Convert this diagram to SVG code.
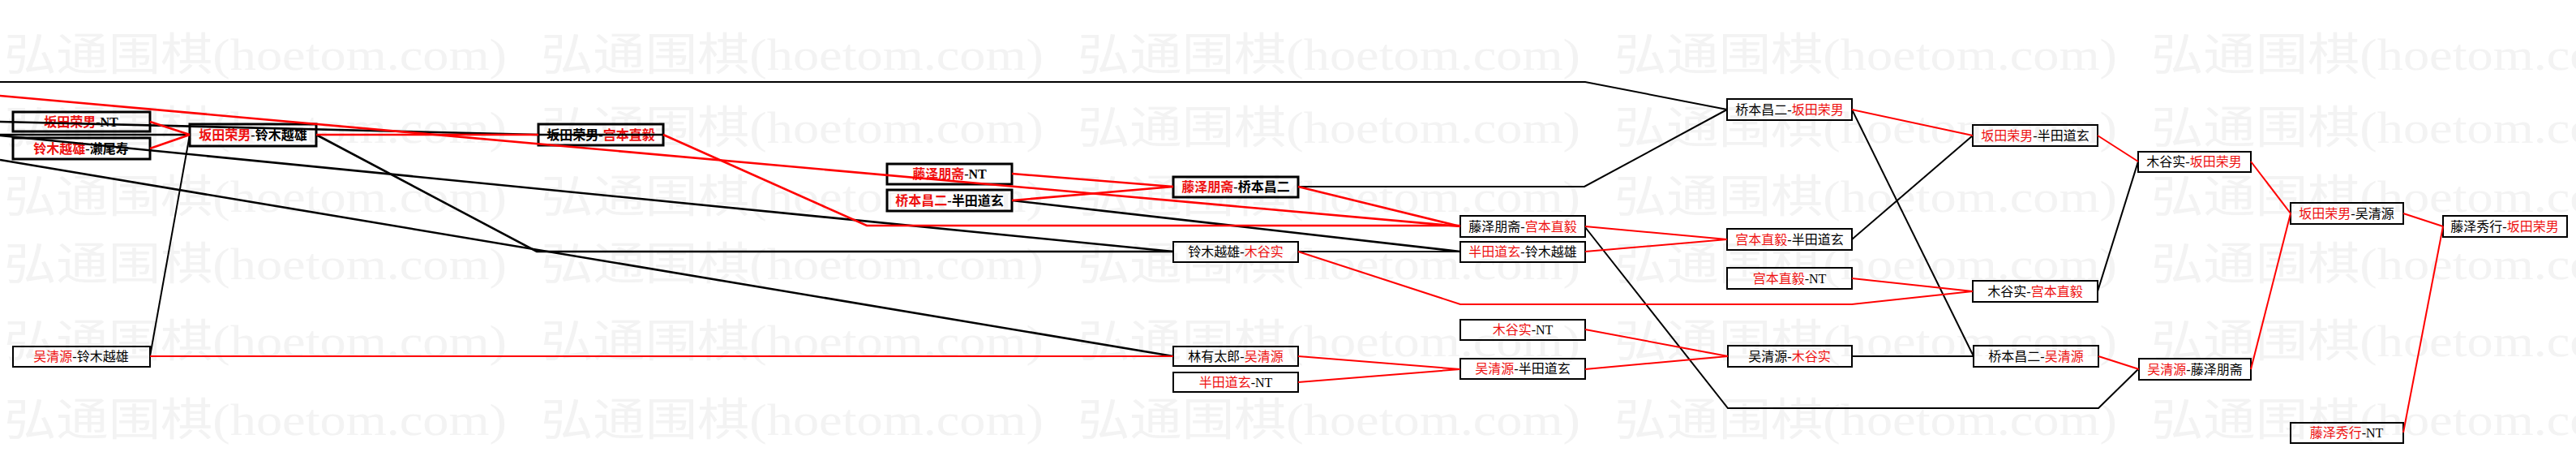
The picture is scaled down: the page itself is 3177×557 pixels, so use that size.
<svg xmlns="http://www.w3.org/2000/svg" xmlns:xlink="http://www.w3.org/1999/xlink" width="3177" height="557" viewBox="0 0 3177 557">
<style>
.wm{font-family:"Liberation Serif","Noto Sans CJK SC",serif;font-size:55px;fill:#f3f3f3}
.box{fill:none;stroke:#000;stroke-width:2}
.thick .box{stroke-width:3}
.lbl{font-family:"Liberation Serif","Noto Sans CJK SC",serif;font-size:16px;fill:#000;text-anchor:middle}
.thick .lbl{font-weight:bold}
.red{fill:#ee1111}
.k{fill:none;stroke:#000;stroke-width:2}
.r{fill:none;stroke:#ff0000;stroke-width:2}
.w{stroke-width:2.6}
</style>
<defs>
<text id="wm" class="wm" textLength="620" lengthAdjust="spacingAndGlyphs">弘通围棋(hoetom.com)</text>
</defs>
<rect width="3177" height="557" fill="#ffffff"/>
<g id="watermark">
<use xlink:href="#wm" x="5" y="86"/><use xlink:href="#wm" x="667" y="86"/><use xlink:href="#wm" x="1329" y="86"/><use xlink:href="#wm" x="1991" y="86"/><use xlink:href="#wm" x="2653" y="86"/>
<use xlink:href="#wm" x="5" y="176"/><use xlink:href="#wm" x="667" y="176"/><use xlink:href="#wm" x="1329" y="176"/><use xlink:href="#wm" x="1991" y="176"/><use xlink:href="#wm" x="2653" y="176"/>
<use xlink:href="#wm" x="5" y="261"/><use xlink:href="#wm" x="667" y="261"/><use xlink:href="#wm" x="1329" y="261"/><use xlink:href="#wm" x="1991" y="261"/><use xlink:href="#wm" x="2653" y="261"/>
<use xlink:href="#wm" x="5" y="344"/><use xlink:href="#wm" x="667" y="344"/><use xlink:href="#wm" x="1329" y="344"/><use xlink:href="#wm" x="1991" y="344"/><use xlink:href="#wm" x="2653" y="344"/>
<use xlink:href="#wm" x="5" y="439"/><use xlink:href="#wm" x="667" y="439"/><use xlink:href="#wm" x="1329" y="439"/><use xlink:href="#wm" x="1991" y="439"/><use xlink:href="#wm" x="2653" y="439"/>
<use xlink:href="#wm" x="5" y="536"/><use xlink:href="#wm" x="667" y="536"/><use xlink:href="#wm" x="1329" y="536"/><use xlink:href="#wm" x="1991" y="536"/><use xlink:href="#wm" x="2653" y="536"/>
</g>
<g id="nodes">
<g id="n1" class="thick"><rect class="box" x="16" y="138" width="169" height="24"/><text class="lbl" x="100" y="155.5"><tspan class="red">坂田荣男</tspan>-NT</text></g>
<g id="n2" class="thick"><rect class="box" x="16" y="170" width="169" height="26"/><text class="lbl" x="100" y="188.5"><tspan class="red">铃木越雄</tspan>-濑尾寿</text></g>
<g id="n3" class="thick"><rect class="box" x="234" y="153" width="156" height="27"/><text class="lbl" x="312" y="172"><tspan class="red">坂田荣男</tspan>-铃木越雄</text></g>
<g id="n4" class="thick"><rect class="box" x="664" y="153" width="154" height="26"/><text class="lbl" x="741" y="171.5">坂田荣男-<tspan class="red">宫本直毅</tspan></text></g>
<g id="n5" class="thick"><rect class="box" x="1094" y="202" width="154" height="25"/><text class="lbl" x="1171" y="220"><tspan class="red">藤泽朋斋</tspan>-NT</text></g>
<g id="n6" class="thick"><rect class="box" x="1094" y="234" width="154" height="26"/><text class="lbl" x="1171" y="252.5"><tspan class="red">桥本昌二</tspan>-半田道玄</text></g>
<g id="n7" class="thick"><rect class="box" x="1447" y="218" width="154" height="25"/><text class="lbl" x="1524" y="236"><tspan class="red">藤泽朋斋</tspan>-桥本昌二</text></g>
<g id="n8"><rect class="box" x="1447" y="298" width="154" height="25" stroke-width="2.6"/><text class="lbl" x="1524" y="316">铃木越雄-<tspan class="red">木谷实</tspan></text></g>
<g id="n9"><rect class="box" x="1447" y="427" width="154" height="24"/><text class="lbl" x="1524" y="444.5">林有太郎-<tspan class="red">吴清源</tspan></text></g>
<g id="n10"><rect class="box" x="1447" y="459" width="154" height="24"/><text class="lbl" x="1524" y="476.5"><tspan class="red">半田道玄</tspan>-NT</text></g>
<g id="n11"><rect class="box" x="1801" y="266" width="154" height="26"/><text class="lbl" x="1878" y="284.5">藤泽朋斋-<tspan class="red">宫本直毅</tspan></text></g>
<g id="n12"><rect class="box" x="1801" y="298" width="154" height="25"/><text class="lbl" x="1878" y="316"><tspan class="red">半田道玄</tspan>-铃木越雄</text></g>
<g id="n13"><rect class="box" x="1801" y="394" width="154" height="25"/><text class="lbl" x="1878" y="412"><tspan class="red">木谷实</tspan>-NT</text></g>
<g id="n14"><rect class="box" x="1801" y="442" width="154" height="25"/><text class="lbl" x="1878" y="460"><tspan class="red">吴清源</tspan>-半田道玄</text></g>
<g id="n15"><rect class="box" x="2130" y="122" width="154" height="26"/><text class="lbl" x="2207" y="140.5">桥本昌二-<tspan class="red">坂田荣男</tspan></text></g>
<g id="n16"><rect class="box" x="2130" y="282" width="154" height="26"/><text class="lbl" x="2207" y="300.5"><tspan class="red">宫本直毅</tspan>-半田道玄</text></g>
<g id="n17"><rect class="box" x="2130" y="330" width="154" height="26"/><text class="lbl" x="2207" y="348.5"><tspan class="red">宫本直毅</tspan>-NT</text></g>
<g id="n18"><rect class="box" x="2131" y="426" width="153" height="26"/><text class="lbl" x="2207" y="444.5">吴清源-<tspan class="red">木谷实</tspan></text></g>
<g id="n19"><rect class="box" x="2433" y="154" width="154" height="26"/><text class="lbl" x="2510" y="172.5"><tspan class="red">坂田荣男</tspan>-半田道玄</text></g>
<g id="n20"><rect class="box" x="2433" y="346" width="154" height="26"/><text class="lbl" x="2510" y="364.5">木谷实-<tspan class="red">宫本直毅</tspan></text></g>
<g id="n21"><rect class="box" x="2434" y="426" width="154" height="26"/><text class="lbl" x="2511" y="444.5">桥本昌二-<tspan class="red">吴清源</tspan></text></g>
<g id="n22"><rect class="box" x="2637" y="187" width="139" height="25"/><text class="lbl" x="2706" y="205">木谷实-<tspan class="red">坂田荣男</tspan></text></g>
<g id="n23"><rect class="box" x="2638" y="442" width="138" height="26"/><text class="lbl" x="2707" y="460.5"><tspan class="red">吴清源</tspan>-藤泽朋斋</text></g>
<g id="n24"><rect class="box" x="2825" y="250" width="139" height="26"/><text class="lbl" x="2894" y="268.5"><tspan class="red">坂田荣男</tspan>-吴清源</text></g>
<g id="n25"><rect class="box" x="3013" y="266" width="153" height="26"/><text class="lbl" x="3089" y="284.5">藤泽秀行-<tspan class="red">坂田荣男</tspan></text></g>
<g id="n26"><rect class="box" x="2825" y="521" width="139" height="25"/><text class="lbl" x="2894" y="539"><tspan class="red">藤泽秀行</tspan>-NT</text></g>
<g id="n27"><rect class="box" x="16" y="427" width="169" height="25"/><text class="lbl" x="100" y="445"><tspan class="red">吴清源</tspan>-铃木越雄</text></g>
</g>
<g id="connectors">
<path class="k w" d="M0,150 L664,166 L818,166"/>
<path class="k w" d="M0,166 L234,166"/>
<path class="k w" d="M0,167 L1447,310"/>
<path class="k w" d="M0,197 L1447,439"/>
<path class="k" d="M234,166 L185,439"/>
<path class="k w" d="M390,166 L662,310 L1447,310"/>
<path class="k w" d="M1248,247 L1801,310"/>
<path class="k" d="M1601,230 L1954,230 L2130,135"/>
<path class="k" d="M0,101 L1955,101 L2130,135"/>
<path class="k" d="M1601,310 L1801,310"/>
<path class="k" d="M1955,280 L2131,503 L2588,503 L2637,455"/>
<path class="k" d="M2284,135 L2434,439"/>
<path class="k" d="M2284,295 L2433,167"/>
<path class="k" d="M2284,439 L2434,439"/>
<path class="k" d="M2587,359 L2637,199"/>
<path class="r w" d="M0,118 L1801,279"/>
<path class="r w" d="M185,150 L234,166"/>
<path class="r w" d="M185,183 L234,166"/>
<path class="r" d="M185,439 L1447,439"/>
<path class="r w" d="M390,166 L664,166"/>
<path class="r w" d="M818,166 L1069,278 L1801,278"/>
<path class="r w" d="M1248,214 L1447,230"/>
<path class="r w" d="M1248,247 L1447,230"/>
<path class="r w" d="M1601,230 L1801,279"/>
<path class="r" d="M1601,310 L1801,375 L2284,375 L2433,359"/>
<path class="r" d="M1601,439 L1801,455"/>
<path class="r" d="M1601,471 L1801,455"/>
<path class="r" d="M1955,279 L2130,295"/>
<path class="r" d="M1955,310 L2130,295"/>
<path class="r" d="M1955,406 L2131,439"/>
<path class="r" d="M1955,455 L2131,439"/>
<path class="r" d="M2284,135 L2433,167"/>
<path class="r" d="M2284,343 L2433,359"/>
<path class="r" d="M2587,167 L2637,199"/>
<path class="r" d="M2588,439 L2638,455"/>
<path class="r" d="M2776,199 L2825,263"/>
<path class="r" d="M2776,455 L2825,263"/>
<path class="r" d="M2964,263 L3013,279"/>
<path class="r" d="M2964,533 L3013,279"/>
</g>
</svg>
